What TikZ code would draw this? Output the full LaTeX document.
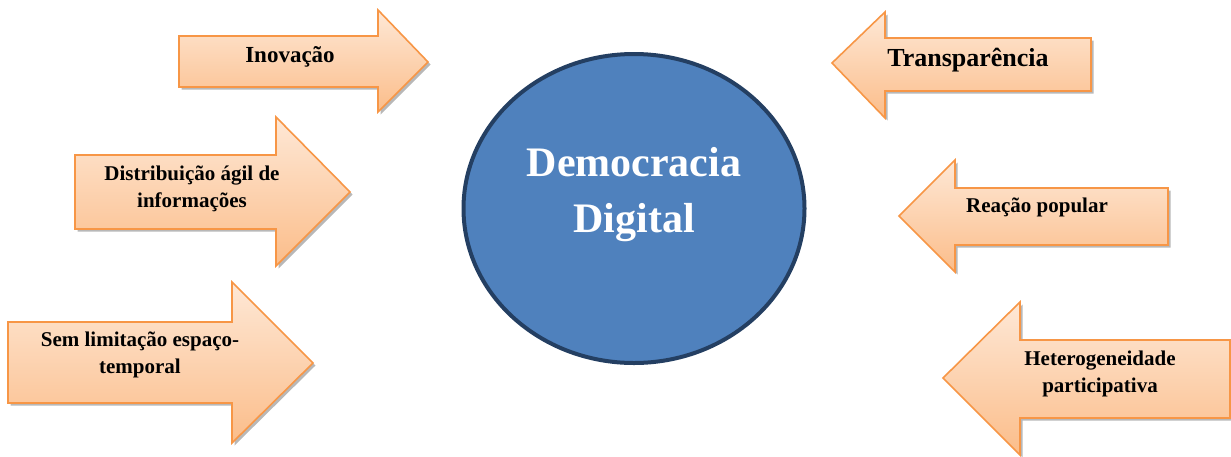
\documentclass[tikz,border=0pt]{standalone}
\usepackage{fontspec}
\setmainfont{Liberation Serif}
\usetikzlibrary{shapes.geometric}
\definecolor{peachtop}{HTML}{FEE8D6}
\definecolor{peachbot}{HTML}{FBBD8A}
\definecolor{arrowborder}{HTML}{F79646}
\definecolor{ddfill}{HTML}{4F81BD}
\definecolor{ddborder}{HTML}{243F62}
\definecolor{shadowgray}{HTML}{9A9A9A}
% #1 style, #2 end x, #3 body top, #4 body bottom, #5 head base x, #6 head top, #7 head bottom, #8 tip x, #9 tip y
\newcommand\BlockArrow[9]{%
  \path[#1] (#2,#3) -- (#5,#3) -- (#5,#6) -- (#8,#9) -- (#5,#7) -- (#5,#4) -- (#2,#4) -- cycle;}
\newcommand\ShadedArrow[8]{%
  \BlockArrow{fill=shadowgray,opacity=0.7,shift={(2.5,2.5)}}{#1}{#2}{#3}{#4}{#5}{#6}{#7}{#8}%
  \BlockArrow{draw=arrowborder,line width=1.6pt,line join=miter,top color=peachtop,bottom color=peachbot}{#1}{#2}{#3}{#4}{#5}{#6}{#7}{#8}}
\tikzset{
  lbl/.style={font=\bfseries\fontsize{21}{27}\selectfont, align=center, inner sep=0pt, text=black},
}
\begin{document}
\begin{tikzpicture}[x=1pt,y=-1pt]
\useasboundingbox (0,0) rectangle (1231,456);
% left-side arrows (pointing right)
\ShadedArrow{179}{36}{87}{378}{10}{112}{428}{62}
\ShadedArrow{75}{155}{229}{276}{117}{266}{350}{192}
\ShadedArrow{8}{322}{403}{232}{282}{443}{313}{363}
% right-side arrows (pointing left)
\ShadedArrow{1091}{38}{91}{885}{12}{118}{832}{63}
\ShadedArrow{1168}{188}{245}{955}{160}{272}{899}{216}
\ShadedArrow{1230}{340}{418}{1020}{302}{455}{943}{378}
% labels
\node[lbl, font=\bfseries\fontsize{23}{28}\selectfont] (inov) at (290,57) {Inovação};
\node[lbl] (dist) at (192,189) {Distribuição ágil de\\informações};
\node[lbl] (sem) at (140,355) {Sem limitação espaço-\\temporal};
\node[lbl, font=\bfseries\fontsize{26}{30}\selectfont] (transp) at (968,60) {Transparência};
\node[lbl] (reac) at (1037,207) {Reação popular};
\node[lbl] (het) at (1100,374) {Heterogeneidade\\participativa};
% central ellipse
\node[ellipse, draw=ddborder, line width=4pt, fill=ddfill, minimum width=341pt, minimum height=309pt, inner sep=0pt] (dd) at (634,208.5) {};
\node[font=\bfseries\fontsize{42}{56}\selectfont, text=white, align=center, inner sep=0pt] (ddtext) at (634,195) {Democracia\\Digital};
\end{tikzpicture}
\end{document}
